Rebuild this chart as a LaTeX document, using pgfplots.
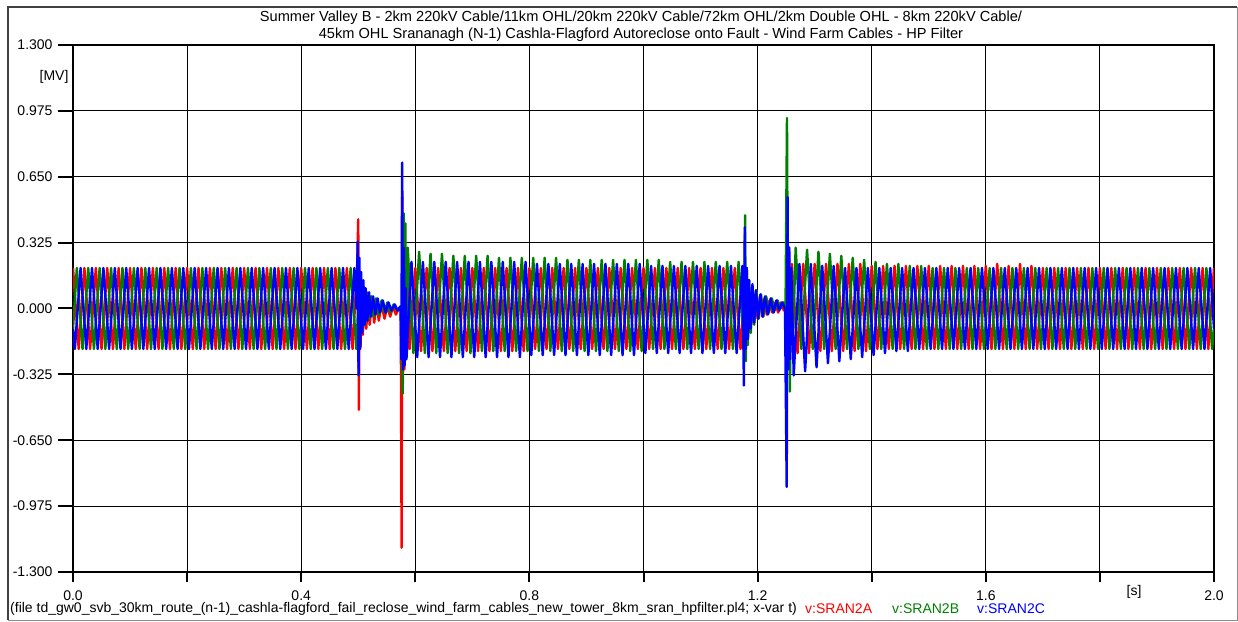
\documentclass[border=0pt]{standalone}
\usepackage{fontspec}
\setmainfont{Liberation Sans}
\usepackage{pgfplots}
\pgfplotsset{compat=1.18}
\definecolor{atpred}{RGB}{255,0,0}
\definecolor{atpgreen}{RGB}{0,128,0}
\definecolor{atpblue}{RGB}{0,0,255}
\newcommand{\lbl}{\fontsize{14}{16}\selectfont}
\newcommand{\ttl}{\fontsize{14.6}{16.5}\selectfont}
\begin{document}
\begin{tikzpicture}[x=1pt,y=1pt]
% page frame
\path (0,0) rectangle (1238,621);
\draw[line width=1.2pt, black!75] (8,1) -- (8,614) -- (1237,614);
\draw[line width=1pt, black!45] (8,1) -- (1237,1) -- (1237,614);
% title
\node[align=center, font=\ttl, inner sep=0pt] at (641,595)
  {Summer Valley B - 2km 220kV Cable/11km OHL/20km 220kV Cable/72km OHL/2km Double OHL - 8km 220kV Cable/\\
   45km OHL Srananagh (N-1) Cashla-Flagford Autoreclose onto Fault - Wind Farm Cables - HP Filter};
\node[font=\lbl, inner sep=0pt] at (54,544) {[MV]};
\node[font=\lbl, inner sep=0pt] at (1134,29) {[s]};
\node[font=\lbl, inner sep=0pt, anchor=west] at (10,12)
  {(file td\_gw0\_svb\_30km\_route\_(n-1)\_cashla-flagford\_fail\_reclose\_wind\_farm\_cables\_new\_tower\_8km\_sran\_hpfilter.pl4; x-var t)};
\node[font=\lbl, inner sep=0pt, anchor=west, text=atpred] at (805,12) {v:SRAN2A};
\node[font=\lbl, inner sep=0pt, anchor=west, text=atpgreen] at (892,12) {v:SRAN2B};
\node[font=\lbl, inner sep=0pt, anchor=west, text=atpblue] at (977,12) {v:SRAN2C};
\begin{axis}[
  at={(73pt,49pt)}, anchor=south west,
  scale only axis, width=1141pt, height=527pt,
  xmin=0, xmax=2000, ymin=-1.3, ymax=1.3,
  xtick={0,200,400,600,800,1000,1200,1400,1600,1800,2000},
  xticklabels={0.0,,0.4,,0.8,,1.2,,1.6,,2.0},
  ytick={-1.3,-0.975,-0.65,-0.325,0,0.325,0.65,0.975,1.3},
  yticklabels={-1.300,-0.975,-0.650,-0.325,0.000,0.325,0.650,0.975,1.300},
  xtick pos=bottom, ytick pos=left,
  tick align=outside,
  xtick style={black, line width=2pt, /pgfplots/major tick length=10pt},
  ytick style={black, line width=2pt, /pgfplots/major tick length=15pt},
  tick label style={font=\lbl, inner sep=1pt},
  xticklabel style={yshift=-13pt},
  yticklabel style={xshift=-15pt},
  grid=major,
  major grid style={black, line width=1pt},
  axis line style={black, line width=2.5pt},
  every axis plot/.append style={line width=2.4pt, line join=round, mark=none},
]
% phase A
\addplot[atpred] coordinates {
(0,.2)(10,-.2)(20,.2)(30,-.2)(40,.2)(50,-.2)(60,.2)(70,-.2)(80,.2)(90,-.2)
(100,.2)(110,-.2)(120,.2)(130,-.2)(140,.2)(150,-.2)(160,.2)(170,-.2)(180,.2)(190,-.2)
(200,.2)(210,-.2)(220,.2)(230,-.2)(240,.2)(250,-.2)(260,.2)(270,-.2)(280,.2)(290,-.2)
(300,.2)(310,-.2)(320,.2)(330,-.2)(340,.2)(350,-.2)(360,.2)(370,-.2)(380,.2)(390,-.2)
(400,.2)(410,-.2)(420,.2)(430,-.2)(440,.2)(450,-.2)(460,.2)(470,-.2)(480,.2)(490,-.2)
(498,.2)(500,.44)(501,-.5)(502.5,.17)(504,-.19)(506,.09)(508,-.13)(511,.06)(514,-.1)(517,.04)(520,-.08)(524,.03)(528,-.07)(532,.03)(536,-.06)(541,.02)(546,-.05)(551,.01)(556,-.04)(561,.01)(566,-.03)(571,0)(574.5,-.01)
(576,-1.18)(577,.55)(578,-.35)(579.5,.3)(581,-.3)(583,.2)(585,-.22)(588,.18)(590,-.2)
(600,.2)(610,-.21)(620,.2)(630,-.21)(640,.2)(650,-.21)(660,.2)(670,-.21)(680,.2)(690,-.21)
(700,.2)(710,-.21)(720,.2)(730,-.21)(740,.2)(750,-.21)(760,.2)(770,-.21)(780,.2)(790,-.21)
(800,.2)(810,-.2)(820,.2)(830,-.2)(840,.2)(850,-.2)(860,.2)(870,-.2)(880,.2)(890,-.2)
(900,.2)(910,-.2)(920,.2)(930,-.2)(940,.2)(950,-.2)(960,.2)(970,-.2)(980,.2)(990,-.2)
(1000,.2)(1010,-.2)(1020,.2)(1030,-.2)(1040,.2)(1050,-.2)(1060,.2)(1070,-.2)(1080,.2)(1090,-.2)
(1100,.2)(1110,-.2)(1120,.2)(1130,-.2)(1140,.2)(1150,-.2)(1160,.2)(1170,-.2)(1180,.2)
(1182,-.14)(1184.5,.1)(1187,-.1)(1190,.08)(1193,-.07)(1196,.07)(1200,-.05)(1204,.06)(1208,-.04)(1212,.05)(1216,-.03)(1221,.04)(1226,-.02)(1231,.03)(1236,-.02)(1241,.03)(1246,-.01)(1250,.02)
(1252,-.12)(1254,.15)(1256,-.18)
(1260,.22)(1270,-.22)(1280,.22)(1290,-.22)(1300,.22)(1310,-.21)(1320,.22)(1330,-.21)(1340,.22)(1350,-.21)(1360,.22)(1370,-.21)(1380,.22)(1390,-.21)
(1400,.21)(1410,-.2)(1420,.21)(1430,-.2)(1440,.21)(1450,-.2)(1460,.21)(1470,-.2)(1480,.21)(1490,-.2)
(1500,.21)(1510,-.2)(1520,.21)(1530,-.2)(1540,.21)(1550,-.2)(1560,.21)(1570,-.2)(1580,.21)(1590,-.2)
(1600,.21)(1610,-.2)(1620,.22)(1630,-.2)(1640,.21)(1650,-.2)(1660,.22)(1670,-.2)(1680,.21)(1690,-.2)
(1700,.2)(1710,-.2)(1720,.2)(1730,-.2)(1740,.2)(1750,-.2)(1760,.2)(1770,-.2)(1780,.2)(1790,-.2)
(1800,.2)(1810,-.2)(1820,.2)(1830,-.2)(1840,.2)(1850,-.2)(1860,.2)(1870,-.2)(1880,.2)(1890,-.2)
(1900,.2)(1910,-.2)(1920,.2)(1930,-.2)(1940,.2)(1950,-.2)(1960,.2)(1970,-.2)(1980,.2)(1990,-.2)(2000,.2)
};
% phase B
\addplot[atpgreen] coordinates {
(0,-.1)
(6.7,.2)(16.7,-.2)(26.7,.2)(36.7,-.2)(46.7,.2)(56.7,-.2)(66.7,.2)(76.7,-.2)(86.7,.2)(96.7,-.2)
(106.7,.2)(116.7,-.2)(126.7,.2)(136.7,-.2)(146.7,.2)(156.7,-.2)(166.7,.2)(176.7,-.2)(186.7,.2)(196.7,-.2)
(206.7,.2)(216.7,-.2)(226.7,.2)(236.7,-.2)(246.7,.2)(256.7,-.2)(266.7,.2)(276.7,-.2)(286.7,.2)(296.7,-.2)
(306.7,.2)(316.7,-.2)(326.7,.2)(336.7,-.2)(346.7,.2)(356.7,-.2)(366.7,.2)(376.7,-.2)(386.7,.2)(396.7,-.2)
(406.7,.2)(416.7,-.2)(426.7,.2)(436.7,-.2)(446.7,.2)(456.7,-.2)(466.7,.2)(476.7,-.2)(486.7,.2)(496.7,-.2)
(499,-.05)(500.5,.12)(502,-.15)(504,.15)(506,-.1)(509,.1)(512,-.08)(515,.08)(519,-.05)(523,.06)(527,-.04)(531,.05)(536,-.03)(541,.04)(546,-.02)(551,.03)(556,-.02)(562,.02)(568,-.01)(574,.01)
(576,0)(578,-.42)(579.5,.47)(581,-.25)(582.5,.42)(584,-.2)(586.7,.3)
(596.7,-.22)(606.7,.28)(616.7,-.22)(626.7,.27)(636.7,-.22)(646.7,.27)(656.7,-.22)(666.7,.26)(676.7,-.22)(686.7,.26)(696.7,-.22)
(706.7,.26)(716.7,-.21)(726.7,.26)(736.7,-.21)(746.7,.25)(756.7,-.21)(766.7,.25)(776.7,-.21)(786.7,.25)(796.7,-.21)
(806.7,.25)(816.7,-.21)(826.7,.25)(836.7,-.21)(846.7,.25)(856.7,-.21)(866.7,.24)(876.7,-.21)(886.7,.24)(896.7,-.21)
(906.7,.24)(916.7,-.21)(926.7,.24)(936.7,-.21)(946.7,.24)(956.7,-.21)(966.7,.24)(976.7,-.21)(986.7,.24)(996.7,-.21)
(1006.7,.24)(1016.7,-.2)(1026.7,.24)(1036.7,-.2)(1046.7,.23)(1056.7,-.2)(1066.7,.23)(1076.7,-.2)(1086.7,.23)(1096.7,-.2)
(1106.7,.23)(1116.7,-.2)(1126.7,.23)(1136.7,-.2)(1146.7,.23)(1156.7,-.2)(1166.7,.23)(1176.7,-.2)
(1178,.46)(1179.5,-.26)(1181,.2)(1183,-.18)(1185,.14)(1188,-.12)(1191,.11)(1194,-.08)(1198,.09)(1202,-.05)(1206,.07)(1210,-.04)(1215,.06)(1220,-.02)(1225,.05)(1230,-.01)(1235,.04)(1240,0)(1245,.03)(1249,.01)
(1251.5,.94)(1253,-.05)(1255,.3)(1256.5,-.41)(1259,.2)(1262,-.15)(1266.7,.3)
(1276.7,-.2)(1286.7,.29)(1296.7,-.2)(1306.7,.28)(1316.7,-.2)(1326.7,.27)(1336.7,-.2)(1346.7,.26)(1356.7,-.2)(1366.7,.25)(1376.7,-.2)(1386.7,.24)(1396.7,-.2)
(1406.7,.23)(1416.7,-.2)(1426.7,.22)(1436.7,-.2)(1446.7,.22)(1456.7,-.2)(1466.7,.21)(1476.7,-.2)(1486.7,.21)(1496.7,-.2)
(1506.7,.2)(1516.7,-.2)(1526.7,.2)(1536.7,-.2)(1546.7,.2)(1556.7,-.2)(1566.7,.2)(1576.7,-.2)(1586.7,.2)(1596.7,-.2)
(1606.7,.2)(1616.7,-.2)(1626.7,.2)(1636.7,-.2)(1646.7,.2)(1656.7,-.2)(1666.7,.2)(1676.7,-.2)(1686.7,.2)(1696.7,-.2)
(1706.7,.2)(1716.7,-.2)(1726.7,.2)(1736.7,-.2)(1746.7,.2)(1756.7,-.2)(1766.7,.2)(1776.7,-.2)(1786.7,.2)(1796.7,-.2)
(1806.7,.2)(1816.7,-.2)(1826.7,.2)(1836.7,-.2)(1846.7,.2)(1856.7,-.2)(1866.7,.2)(1876.7,-.2)(1886.7,.2)(1896.7,-.2)
(1906.7,.2)(1916.7,-.2)(1926.7,.2)(1936.7,-.2)(1946.7,.2)(1956.7,-.2)(1966.7,.2)(1976.7,-.2)(1986.7,.2)(1996.7,-.2)(2000,-.1)
};
% phase C
\addplot[atpblue] coordinates {
(0,-.1)(3.3,-.2)(13.3,.2)(23.3,-.2)(33.3,.2)(43.3,-.2)(53.3,.2)(63.3,-.2)(73.3,.2)(83.3,-.2)(93.3,.2)
(103.3,-.2)(113.3,.2)(123.3,-.2)(133.3,.2)(143.3,-.2)(153.3,.2)(163.3,-.2)(173.3,.2)(183.3,-.2)(193.3,.2)
(203.3,-.2)(213.3,.2)(223.3,-.2)(233.3,.2)(243.3,-.2)(253.3,.2)(263.3,-.2)(273.3,.2)(283.3,-.2)(293.3,.2)
(303.3,-.2)(313.3,.2)(323.3,-.2)(333.3,.2)(343.3,-.2)(353.3,.2)(363.3,-.2)(373.3,.2)(383.3,-.2)(393.3,.2)
(403.3,-.2)(413.3,.2)(423.3,-.2)(433.3,.2)(443.3,-.2)(453.3,.2)(463.3,-.2)(473.3,.2)(483.3,-.2)(493.3,.2)
(497,0)(499,.33)(500.5,-.33)(502,.25)(503.5,-.2)(505,.18)(507,-.12)(509,.14)(511,-.08)(513,.1)(516,-.06)(519,.08)(522,-.04)(526,.06)(530,-.03)(534,.05)(538,-.02)(543,.04)(548,-.02)(553,.03)(558,-.01)(564,.02)(569,-.01)(574,.01)
(575.5,-.25)(577,.72)(578.5,-.3)(580,.3)(581.5,-.28)(583,.1)(584.5,-.25)(593.3,.23)
(603.3,-.24)(613.3,.23)(623.3,-.24)(633.3,.23)(643.3,-.24)(653.3,.23)(663.3,-.24)(673.3,.23)(683.3,-.24)(693.3,.23)
(703.3,-.24)(713.3,.23)(723.3,-.24)(733.3,.23)(743.3,-.24)(753.3,.23)(763.3,-.24)(773.3,.23)(783.3,-.24)(793.3,.23)
(803.3,-.23)(813.3,.22)(823.3,-.23)(833.3,.22)(843.3,-.23)(853.3,.22)(863.3,-.23)(873.3,.22)(883.3,-.23)(893.3,.22)
(903.3,-.23)(913.3,.22)(923.3,-.23)(933.3,.22)(943.3,-.23)(953.3,.22)(963.3,-.23)(973.3,.22)(983.3,-.23)(993.3,.22)
(1003.3,-.22)(1013.3,.21)(1023.3,-.22)(1033.3,.21)(1043.3,-.22)(1053.3,.21)(1063.3,-.22)(1073.3,.21)(1083.3,-.22)(1093.3,.21)
(1103.3,-.22)(1113.3,.21)(1123.3,-.22)(1133.3,.21)(1143.3,-.22)(1153.3,.21)(1163.3,-.22)(1173.3,.21)
(1176,-.38)(1177.5,.4)(1179,-.2)(1181,.2)(1183,-.15)(1185,.14)(1188,-.1)(1191,.12)(1194,-.07)(1197,.09)(1201,-.05)(1205,.07)(1209,-.04)(1213,.06)(1218,-.03)(1223,.05)(1228,-.02)(1233,.04)(1238,-.01)(1243,.03)(1248,0)
(1251,-.88)(1252.5,.55)(1254,-.3)(1255.5,.3)(1257,-.25)(1259,.2)
(1263.3,-.33)(1273.3,.22)(1283.3,-.31)(1293.3,.22)(1303.3,-.29)(1313.3,.21)(1323.3,-.27)(1333.3,.21)(1343.3,-.26)(1353.3,.2)(1363.3,-.25)(1373.3,.2)(1383.3,-.24)(1393.3,.2)
(1403.3,-.23)(1413.3,.2)(1423.3,-.22)(1433.3,.2)(1443.3,-.21)(1453.3,.2)(1463.3,-.21)(1473.3,.2)(1483.3,-.2)(1493.3,.2)
(1503.3,-.2)(1513.3,.2)(1523.3,-.2)(1533.3,.2)(1543.3,-.2)(1553.3,.2)(1563.3,-.2)(1573.3,.2)(1583.3,-.2)(1593.3,.2)
(1603.3,-.2)(1613.3,.2)(1623.3,-.2)(1633.3,.2)(1643.3,-.2)(1653.3,.2)(1663.3,-.2)(1673.3,.2)(1683.3,-.2)(1693.3,.2)
(1703.3,-.2)(1713.3,.2)(1723.3,-.2)(1733.3,.2)(1743.3,-.2)(1753.3,.2)(1763.3,-.2)(1773.3,.2)(1783.3,-.2)(1793.3,.2)
(1803.3,-.2)(1813.3,.2)(1823.3,-.2)(1833.3,.2)(1843.3,-.2)(1853.3,.2)(1863.3,-.2)(1873.3,.2)(1883.3,-.2)(1893.3,.2)
(1903.3,-.2)(1913.3,.2)(1923.3,-.2)(1933.3,.2)(1943.3,-.2)(1953.3,.2)(1963.3,-.2)(1973.3,.2)(1983.3,-.2)(1993.3,.2)(2000,-.1)
};
\end{axis}
\end{tikzpicture}
\end{document}
